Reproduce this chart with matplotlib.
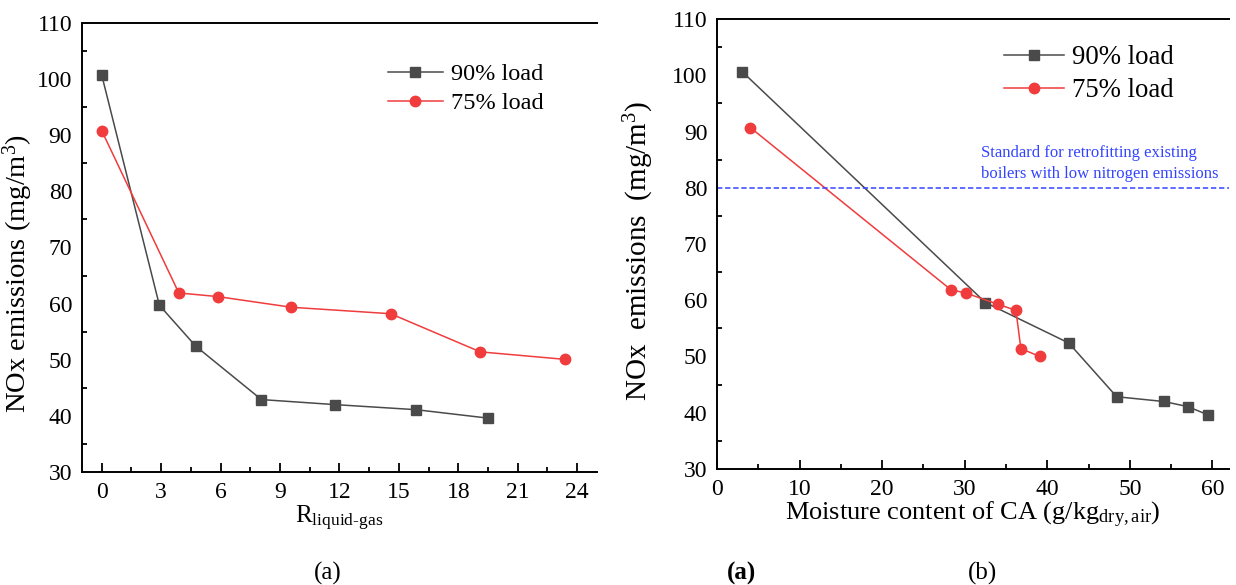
import numpy as np
import matplotlib as mpl
import matplotlib.pyplot as plt
from matplotlib.ticker import MultipleLocator

mpl.rcParams.update({'font.family': 'Liberation Serif', 'mathtext.fontset': 'custom',
                     'mathtext.rm': 'Liberation Serif', 'mathtext.it': 'Liberation Serif',
                     'font.size': 17})

# (a) NOx vs liquid-gas ratio
r_90 = [0.0, 2.91, 4.75, 8.06, 11.79, 15.86, 19.49]
nox_r_90 = [100.7, 59.7, 52.4, 42.9, 42.0, 41.1, 39.6]
r_75 = [0.0, 3.89, 5.86, 9.57, 14.58, 19.11, 23.40]
nox_r_75 = [90.8, 61.9, 61.25, 59.35, 58.2, 51.4, 50.06]

# (b) NOx vs moisture content of combustion air
m_90 = [3.04, 32.5, 42.6, 48.4, 54.1, 57.0, 59.5]
nox_m_90 = [100.65, 59.6, 52.4, 42.85, 42.0, 41.1, 39.6]
m_75 = [4.04, 28.3, 30.2, 34.0, 36.2, 36.8, 39.1]
nox_m_75 = [90.7, 61.9, 61.25, 59.3, 58.2, 51.4, 50.0]

nox_limit = 80
labels = ['90% load', '75% load']

c_gray = '#4a4a4a'
c_red = '#f03c3c'
c_blue = '#3344ff'

fig = plt.figure(figsize=(12.36, 5.85), dpi=100)
ax1 = fig.add_axes([0.0663, 0.1932, 0.4167, 0.7675])
ax2 = fig.add_axes([0.5801, 0.1983, 0.4142, 0.7692])


def style(ax):
    ax.spines['right'].set_visible(False)
    for s in ['left', 'bottom', 'top']:
        ax.spines[s].set_linewidth(1.4)
    ax.tick_params(which='both', direction='in', top=False, right=False, width=1.3)
    ax.tick_params(axis='x', which='major', length=6.5, pad=7)
    ax.tick_params(axis='x', which='minor', length=3.5)
    ax.tick_params(axis='y', which='major', length=0, pad=7)
    ax.tick_params(axis='y', which='minor', length=3.5)
    ax.set_ylim(30, 110)
    ax.yaxis.set_major_locator(MultipleLocator(10))
    ax.yaxis.set_minor_locator(MultipleLocator(5))


ax1.plot(r_90, nox_r_90, '-s', color=c_gray, lw=1.1, ms=6.8, label=labels[0])
ax1.plot(r_75, nox_r_75, '-o', color=c_red, lw=1.1, ms=7.5, label=labels[1])
style(ax1)
ax1.set_xlim(-1, 25)
ax1.xaxis.set_major_locator(MultipleLocator(3))
ax1.xaxis.set_minor_locator(MultipleLocator(1.5))
ax1.set_xlabel(r'R$_{\mathregular{liquid\text{-}gas}}$', fontsize=18, labelpad=1)
ax1.set_ylabel(r'NOx emissions (mg/m$^{\mathregular{3}}$)', fontsize=20.5)
ax1.yaxis.set_label_coords(-0.092, 0.443)
ax1.legend(loc='upper left', bbox_to_anchor=(0.594, 0.91), frameon=False, fontsize=17.5,
           handlelength=2.26, handletextpad=0.33, borderpad=0, borderaxespad=0,
           labelspacing=0.28)

ax2.plot(m_90, nox_m_90, '-s', color=c_gray, lw=1.1, ms=6.8, label=labels[0])
ax2.plot(m_75, nox_m_75, '-o', color=c_red, lw=1.1, ms=7.5, label=labels[1])
ax2.axhline(nox_limit, color=c_blue, lw=1.1, ls=(0, (3.5, 1.8)))
ax2.text(32.0, 81.0, 'Standard for retrofitting existing\nboilers with low nitrogen emissions',
         color=c_blue, fontsize=12, linespacing=1.45, ha='left', va='bottom')
style(ax2)
ax2.set_xlim(0, 62)
ax2.xaxis.set_major_locator(MultipleLocator(10))
ax2.xaxis.set_minor_locator(MultipleLocator(5))
ax2.set_xlabel(r'Moisture content of CA (g/kg$_{\mathregular{dry,air}}$)', fontsize=19,
               labelpad=0)
ax2.set_ylabel(r'NOx  emissions  (mg/m$^{\mathregular{3}}$)', fontsize=21)
ax2.yaxis.set_label_coords(-0.119, 0.484)
ax2.legend(loc='upper left', bbox_to_anchor=(0.5605, 0.942), frameon=False, fontsize=19.3,
           handlelength=2.24, handletextpad=0.3, borderpad=0, borderaxespad=0,
           labelspacing=0.31)

fig.text(0.2654, 0.0205, '(a)', ha='center', va='center', fontsize=18)
fig.text(0.6003, 0.0205, '(a)', ha='center', va='center', fontsize=18, fontweight='bold')
fig.text(0.7953, 0.0205, '(b)', ha='center', va='center', fontsize=18)

fig.savefig('out.png', dpi=100)
